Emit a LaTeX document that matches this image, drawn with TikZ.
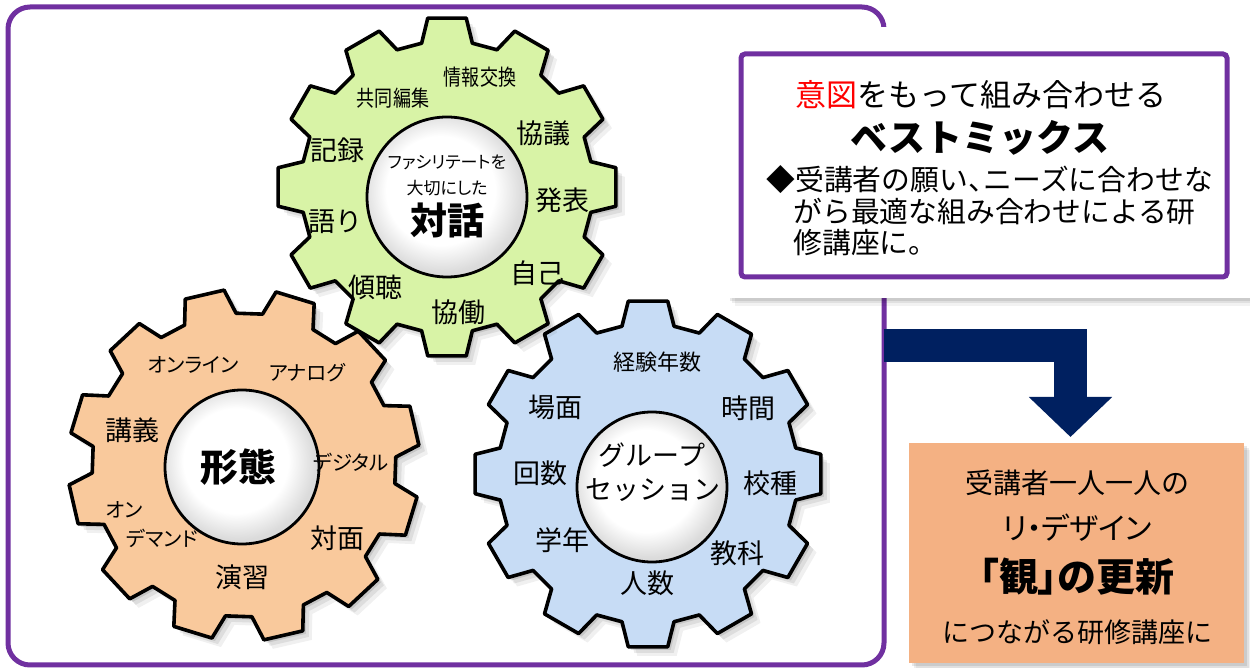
\documentclass[tikz,border=0pt]{standalone}
\usepackage{fontspec}
\newfontfamily\jp{Noto Sans CJK JP}
\newfontfamily\jpp[RawFeature=+palt]{Noto Sans CJK JP}
\newfontfamily\jpn[FakeStretch=0.82]{Noto Sans CJK JP}
\usetikzlibrary{calc,arrows.meta}
\definecolor{frameC}{HTML}{7030A0}
\definecolor{navyC}{HTML}{002060}
\definecolor{gGreen}{HTML}{D8F3A6}
\definecolor{gOrange}{HTML}{F9C99C}
\definecolor{gBlue}{HTML}{C7DCF5}
\definecolor{boxOrange}{HTML}{F4B183}
\pgfdeclareradialshading{innerball}{\pgfpoint{-3bp}{3bp}}{color(0bp)=(white); color(17bp)=(white); color(25bp)=(black!14); color(50bp)=(black!14)}
\newcommand{\fsz}[1]{\fontsize{#1}{#1}\selectfont}
\newcommand{\gearpath}[3]{({#3-10}:#2) \foreach \k in {0,...,11}{ -- ({#3+\k*30-10}:#2) -- ({#3+\k*30-6.5}:#1) -- ({#3+\k*30+6.5}:#1) -- ({#3+\k*30+10}:#2)} -- cycle}
\tikzset{
  gearline/.style={draw=black, line width=1.8pt, line join=round},
  hub/.style={draw=black, line width=1.4pt, shading=innerball},
  big/.style={font=\jp\fsz{13.5pt}, inner sep=0pt},
  small/.style={font=\jpp\fsz{10.2pt}, inner sep=0pt},
  narrow/.style={font=\jpn\fsz{11pt}, inner sep=0pt},
  mid/.style={font=\jp\fsz{11pt}, inner sep=0pt},
  tiny/.style={font=\jpp\fsz{8.5pt}, inner sep=0pt},
  core/.style={font=\jp\bfseries\fsz{18.5pt}, inner sep=0pt},
  boxtxt/.style={font=\jp\fsz{14.4pt}, inner sep=0pt, anchor=west},
}
\begin{document}
\begin{tikzpicture}[x=0.5pt,y=-0.5pt]
\useasboundingbox (0,0) rectangle (1250,668);
\fill[white] (0,0) rectangle (1250,668);
% outer frame
\draw[frameC, line width=2.5pt, rounded corners=11pt] (8,7) rectangle (884,665);
% top right white panel with shadow
\foreach \s/\o in {8/.05,5/.07,3/.09}{\fill[black,opacity=\o] (727+\s,27+\s) rectangle (1250,298+\s);}
\fill[white] (727,27) rectangle (1250,298);
\draw[frameC, line width=2.5pt, rounded corners=2pt] (741,54) rectangle (1227,277);
\node[font=\jp\fsz{15.5pt}, inner sep=0pt] (t1) at (981,95) {\textcolor{red}{意図}をもって組み合わせる};
\node[font=\jp\bfseries\fsz{18.5pt}, inner sep=0pt] (t2) at (980,138) {ベストミックス};
\node[boxtxt] (t3) at (766,180) {◆受講者の願い\makebox[0.55em][l]{、}ニーズに合わせな};
\node[boxtxt] (t4) at (793,212) {がら最適な組み合わせによる研};
\node[boxtxt] (t5) at (793,243) {修講座に。};
% result box
\foreach \s/\o in {7/.05,5/.07,3/.09}{\fill[black,opacity=\o] (909+\s,443+\s) rectangle (1244+\s,663+\s);}
\fill[boxOrange] (909,443) rectangle (1244,663);
\node[font=\jp\fsz{14pt}, inner sep=0pt] (r1) at (1077,483) {受講者一人一人の};
\node[font=\jpp\fsz{15pt}, inner sep=0pt] (r2) at (1077,528) {リ・デザイン};
\node[font=\jpp\bfseries\fsz{19.5pt}, inner sep=0pt] (r3) at (1077,577) {「観」の更新};
\node[font=\jp\fsz{13.5pt}, inner sep=0pt] (r4) at (1077,632) {につながる研修講座に};
% arrow
\coordinate (aS) at (884,345.5);
\coordinate (aE) at (1070.5,437);
\draw[navyC, line width=16.5pt, -{Triangle[length=20pt,width=40.5pt]}] (aS) -| (aE);
% left gear (orange)
\begin{scope}[shift={(244,465)}]
  \foreach \s/\o in {9/.06,6/.08,3/.10}{\fill[black,opacity=\o,shift={(\s,\s)}] \gearpath{176}{152}{17};}
  \filldraw[gearline, fill=gOrange] \gearpath{176}{152}{17};
\end{scope}
\draw[hub] (242,467) circle[radius=77];
% right gear (blue)
\begin{scope}[shift={(648,474)}]
  \foreach \s/\o in {9/.06,6/.08,3/.10}{\fill[black,opacity=\o,shift={(\s,\s)}] \gearpath{174}{150}{0};}
  \filldraw[gearline, fill=gBlue] \gearpath{174}{150}{0};
\end{scope}
\draw[hub] (652,487) circle[radius=75];
% top gear (green)
\begin{scope}[shift={(447,187)}]
  \foreach \s/\o in {9/.06,6/.08,3/.10}{\fill[black,opacity=\o,shift={(\s,\s)}] \gearpath{170}{146}{0};}
  \filldraw[gearline, fill=gGreen] \gearpath{170}{146}{0};
\end{scope}
\draw[hub] (447,197) circle[radius=80];
% top gear labels
\node[narrow] (g1a) at (480,77) {情報交換};
\node[narrow] (g1b) at (393,98) {共同編集};
\node[big] (g1c) at (543,133) {協議};
\node[big] (g1d) at (337,150) {記録};
\node[big] (g1e) at (562,200) {発表};
\node[big] (g1f) at (335,222) {語り};
\node[big] (g1g) at (537,273) {自己};
\node[big] (g1h) at (375,287) {傾聴};
\node[big] (g1i) at (458,312) {協働};
\node[tiny] (c1a) at (447,162) {ファシリテートを};
\node[tiny] (c1b) at (447,188) {大切にした};
\node[core] (c1c) at (447,220) {対話};
% left gear labels
\node[small] (g2a) at (193,365) {オンライン};
\node[small] (g2b) at (307,373) {アナログ};
\node[big] (g2c) at (132,430) {講義};
\node[small] (g2d) at (351,462) {デジタル};
\node[core, font=\jp\bfseries\fsz{19pt}] (c2) at (238,467) {形態};
\node[small] (g2e) at (124,510) {オン};
\node[small] (g2f) at (162,538) {デマンド};
\node[big] (g2g) at (337,538) {対面};
\node[big] (g2h) at (242,577) {演習};
% right gear labels
\node[mid] (g3a) at (657,362) {経験年数};
\node[big] (g3b) at (555,407) {場面};
\node[big] (g3c) at (748,408) {時間};
\node[big] (g3d) at (540,473) {回数};
\node[big] (g3e) at (770,483) {校種};
\node[big] (c3a) at (652,455) {グループ};
\node[big] (c3b) at (653,490) {セッション};
\node[big] (g3f) at (562,540) {学年};
\node[big] (g3g) at (737,553) {教科};
\node[big] (g3h) at (647,583) {人数};
\end{tikzpicture}
\end{document}
